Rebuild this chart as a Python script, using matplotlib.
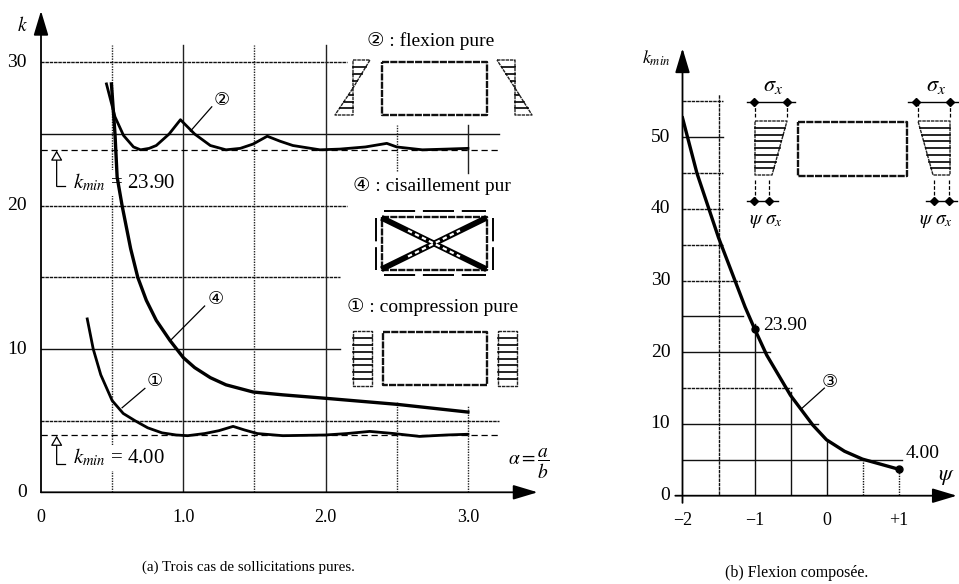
from __future__ import annotations

import matplotlib

matplotlib.use("Agg")
import matplotlib.pyplot as plt

plt.rcParams["font.family"] = ["Liberation Serif", "DejaVu Sans"]
plt.rcParams["mathtext.fontset"] = "stix"

WIDTH, HEIGHT = 959, 584

# left chart
alpha_compression = [0.325, 0.367, 0.42, 0.50, 0.578, 0.66, 0.75, 0.85, 0.95, 1.03, 1.15, 1.25, 1.35, 1.43, 1.52, 1.70, 2.00, 2.15, 2.31, 2.48, 2.66, 2.85, 3.00]
k_compression = [12.1, 10.0, 8.2, 6.4, 5.5, 5.0, 4.5, 4.15, 4.0, 3.95, 4.1, 4.3, 4.6, 4.35, 4.1, 3.95, 4.0, 4.1, 4.25, 4.1, 3.9, 4.0, 4.05]
alpha_bending = [0.46, 0.52, 0.58, 0.65, 0.70, 0.76, 0.81, 0.90, 0.98, 1.08, 1.19, 1.30, 1.40, 1.49, 1.59, 1.68, 1.77, 1.96, 2.10, 2.28, 2.43, 2.50, 2.68, 2.85, 3.00]
k_bending = [28.5, 26.2, 24.9, 24.1, 23.9, 24.0, 24.2, 25.0, 26.0, 25.0, 24.2, 23.9, 24.0, 24.3, 24.85, 24.5, 24.2, 23.9, 23.95, 24.1, 24.35, 24.1, 23.9, 23.95, 24.0]
alpha_shear = [0.495, 0.52, 0.535, 0.57, 0.63, 0.68, 0.74, 0.81, 0.906, 1.00, 1.08, 1.19, 1.30, 1.49, 1.70, 2.00, 2.50, 3.00]
k_shear = [28.5, 25.0, 22.0, 20.0, 17.0, 15.0, 13.4, 12.0, 10.6, 9.4, 8.7, 8.0, 7.5, 7.0, 6.8, 6.56, 6.14, 5.6]
left_h_levels = [30, 25, 20, 15, 10, 5]
left_h_ends = [2.15, 3.22, 2.15, 2.1, 2.1, 3.22]
left_h_styles = ["dense", "solid", "dense", "dense", "solid", "dense"]
left_v_x = [0.5, 1.0, 1.5, 2.0, 2.5, 3.0, 2.5, 3.0]
left_v_low = [-0.55, -0.55, -0.55, -0.55, -0.55, -0.55, 22.4, 22.3]
left_v_high = [31.2, 31.2, 31.2, 31.2, 6.3, 6.0, 25.6, 25.6]
left_v_styles = ["dot", "solid", "dot", "solid", "dot", "dot", "dot", "solid"]
left_xticks = [0, 1.0, 2.0, 3.0]
left_xticklabels = ["0", "1.0", "2.0", "3.0"]
left_yticks = [0, 10, 20, 30]

# right chart
psi = [-2.0, -1.8, -1.5, -1.13, -1.0, -0.83, -0.5, -0.19, 0.0, 0.25, 0.5, 0.75, 1.0]
k_min = [52.7, 45.0, 36.0, 26.3, 23.3, 19.6, 14.0, 9.85, 7.8, 6.2, 5.1, 4.4, 3.7]
right_yticks = [0, 10, 20, 30, 40, 50]
right_xticks = [-2, -1, 0, 1]
right_xticklabels = ["\u22122", "\u22121", "0", "+1"]
right_h_levels = [55, 50, 45, 40, 35, 30, 25, 20, 15, 10, 5]
right_h_ends = [-1.44, -1.44, -1.44, -1.44, -1.44, -1.2, -1.16, -0.79, -0.48, -0.12, 1.05]
right_h_styles = ["dense", "solid", "dense", "dense", "dense", "dense", "solid", "solid", "dense", "solid", "solid"]
right_v_x = [-1.5, -1, -0.5, 0, 0.5, 1]
right_v_tops = [56, 23.9, 14.5, 7.8, 5.1, 3.7]
right_v_styles = ["dense", "solid", "solid", "solid", "dot", "dot"]

STYLES = {"solid": "-", "dense": (0, (2.5, 0.6)), "dot": (0, (1, 0.9))}


def px_axes(fig, left, top, right, bottom):
    return fig.add_axes([left / WIDTH, 1 - bottom / HEIGHT, (right - left) / WIDTH, (bottom - top) / HEIGHT])


def arrow(ax, start, end):
    ax.annotate(
        "",
        xy=end,
        xytext=start,
        arrowprops=dict(arrowstyle="-|>,head_length=1.5,head_width=0.45", color="black", lw=1.3, shrinkA=0, shrinkB=0),
        annotation_clip=False,
    )


def leader(ax, label, tip, start, text_at):
    ax.plot([tip[0], start[0]], [tip[1], start[1]], color="black", lw=0.9, zorder=3)
    ax.text(text_at[0], text_at[1], label, fontsize=13, ha="center", va="center", family=["DejaVu Sans"])


def hook(ax, x, x_end, y_low, y_high):
    ax.annotate(
        "",
        xy=(x, y_high),
        xytext=(x, y_low),
        arrowprops=dict(arrowstyle="-|>,head_length=0.6,head_width=0.35", fc="white", ec="black", lw=0.9, shrinkA=0, shrinkB=0),
    )
    ax.plot([x, x_end], [y_low, y_low], color="black", lw=0.9)


def hatch_poly(dx, xs, ys, n=7):
    # closed outline plus horizontal hatch lines; xs/ys run left-top, right-top, right-bottom, left-bottom
    dx.plot(xs + xs[:1], ys + ys[:1], color="#222222", lw=1.0, ls=STYLES["dense"])
    for i in range(1, n):
        t = i / n
        xl = xs[0] + (xs[3] - xs[0]) * t
        xr = xs[1] + (xs[2] - xs[1]) * t
        y = ys[0] + (ys[3] - ys[0]) * t
        dx.plot([xl, xr], [y, y], color="black", lw=1.2)


def plate(dx, left, top, right, bottom):
    dx.plot([left, right, right, left, left], [top, top, bottom, bottom, top], color="#111111", lw=1.7, ls=(0, (3, 0.5)))


fig = plt.figure(figsize=(WIDTH / 100, HEIGHT / 100), dpi=100)

# ---- left chart ----
ax = px_axes(fig, 41, 10, 545, 492.3)
ax.set_xlim(0, (545 - 41) / 142.3)
ax.set_ylim(0, (492.3 - 10) / 14.33)
ax.axis("off")

for y, end, style in zip(left_h_levels, left_h_ends, left_h_styles):
    ax.plot([-0.06, end], [y, y], color="#111111", lw=1.0, ls=STYLES[style])
for x, low, high, style in zip(left_v_x, left_v_low, left_v_high, left_v_styles):
    ax.plot([x, x], [low, high], color="#222222", lw=1.0, ls=STYLES[style])
ax.plot([0, 3.22], [23.9, 23.9], color="black", lw=0.9, ls=(0, (5, 3)))
ax.plot([0, 3.22], [4.0, 4.0], color="black", lw=0.9, ls=(0, (5, 3)))

arrow(ax, (0, 0), (0, 33.6))
arrow(ax, (0, 0), (3.49, 0))

ax.plot(alpha_compression, k_compression, color="black", lw=2.0, zorder=4)
ax.plot(alpha_bending, k_bending, color="black", lw=2.0, zorder=4)
ax.plot(alpha_shear, k_shear, color="black", lw=2.4, zorder=4)

for x, label in zip(left_xticks, left_xticklabels):
    ax.text(x, -1.75, label, fontsize=13, ha="center", va="center")
for y in left_yticks:
    ax.text(-0.1, y, str(y), fontsize=14, ha="right", va="center")
ax.text(-0.13, 32.6, "$k$", fontsize=14, ha="center", va="center")

ax.text(0.225, 21.6, "$k_{min}$ = 23.90", fontsize=15, ha="left", va="center", bbox=dict(fc="white", ec="none", pad=1.5), zorder=3)
ax.text(0.225, 2.4, "$k_{min}$ = 4.00", fontsize=15, ha="left", va="center", bbox=dict(fc="white", ec="none", pad=1.5), zorder=3)
hook(ax, 0.11, 0.17, 21.35, 23.85)
hook(ax, 0.11, 0.17, 1.95, 3.95)

leader(ax, "\u2461", (1.05, 25.2), (1.2, 26.9), (1.27, 27.35))
leader(ax, "\u2463", (0.91, 10.6), (1.15, 13.0), (1.23, 13.5))
leader(ax, "\u2460", (0.57, 5.9), (0.73, 7.25), (0.80, 7.8))

ax.text(2.29, 31.5, "\u2461 : flexion pure", fontsize=14, ha="left", va="center")
ax.text(2.19, 21.4, "\u2463 : cisaillement pur", fontsize=14, ha="left", va="center")
ax.text(2.15, 12.9, "\u2460 : compression pure", fontsize=14, ha="left", va="center")
ax.text(3.43, 2.0, r"$\alpha = \dfrac{a}{b}$", fontsize=14, ha="center", va="center")

ax.text(0.71, -5.2, "(a) Trois cas de sollicitations pures.", fontsize=10.8, ha="left", va="center", clip_on=False)

# ---- right chart ----
rx = px_axes(fig, 682.5, 40, 957, 495.7)
rx.set_xlim(-2, -2 + (957 - 682.5) / 72)
rx.set_ylim(0, (495.7 - 40) / 7.17)
rx.axis("off")

for x, top, style in zip(right_v_x, right_v_tops, right_v_styles):
    rx.plot([x, x], [-1, top], color="#111111", lw=1.0, ls=STYLES[style])
for y, end, style in zip(right_h_levels, right_h_ends, right_h_styles):
    rx.plot([-2.12, end], [y, y], color="#111111", lw=1.0, ls=STYLES[style])

arrow(rx, (-2, -1), (-2, 62.4))
arrow(rx, (-2.1, 0), (1.81, 0))

rx.plot(psi, k_min, color="black", lw=2.4, zorder=4)
rx.plot([-1, 1], [23.3, 3.7], ls="none", marker="o", ms=5, color="black", zorder=5)

for x, label in zip(right_xticks, right_xticklabels):
    rx.text(x, -3.4, label, fontsize=13, ha="center", va="center")
for y in right_yticks:
    rx.text(-2.17, y, str(y), fontsize=14, ha="right", va="center")
rx.text(-2.37, 61, "$k_{min}$", fontsize=13, ha="center", va="center")
rx.text(1.67, 2.6, r"$\psi$", fontsize=16, ha="center", va="center")
rx.text(-0.88, 23.7, "23.90", fontsize=14, ha="left", va="center")
rx.text(1.33, 5.95, "4.00", fontsize=14, ha="center", va="center")
leader(rx, "\u2462", (-0.34, 12.2), (-0.03, 15.0), (0.05, 15.9))

rx.text(-1.41, -10.8, "(b) Flexion compos\u00e9e.", fontsize=11.5, ha="left", va="center", clip_on=False)

# ---- schematic plates, drawn in picture pixels ----
dx = fig.add_axes([0, 0, 1, 1])
dx.set_xlim(0, WIDTH)
dx.set_ylim(HEIGHT, 0)
dx.axis("off")
dx.patch.set_alpha(0)

# pure bending
plate(dx, 382, 62, 487, 115)
hatch_poly(dx, [353, 370, 353, 353], [60, 60, 88, 88], n=4)
hatch_poly(dx, [353, 353, 353, 335], [88, 88, 115, 115], n=4)
hatch_poly(dx, [497, 515, 515, 515], [60, 60, 88, 88], n=4)
hatch_poly(dx, [515, 515, 532, 515], [88, 88, 115, 115], n=4)

# pure shear
plate(dx, 382, 217, 487, 270)
dx.plot([384, 484], [219, 268], color="black", lw=4.2)
dx.plot([384, 484], [268, 219], color="black", lw=4.2)
dx.plot([408, 460], [230.5, 256.5], color="white", lw=1.6, ls=(0, (2, 1.5)))
dx.plot([408, 460], [256.5, 230.5], color="white", lw=1.6, ls=(0, (2, 1.5)))
dx.plot([384, 486], [211, 211], color="black", lw=1.4, ls=(0, (16, 4)))
dx.plot([384, 486], [275, 275], color="black", lw=1.4, ls=(0, (16, 4)))
dx.plot([376, 376], [218, 270], color="black", lw=1.4, ls=(0, (12, 3)))
dx.plot([493, 493], [218, 270], color="black", lw=1.4, ls=(0, (12, 3)))

# pure compression
plate(dx, 383, 332, 487, 385)
hatch_poly(dx, [353, 372, 372, 353], [331, 331, 386, 386], n=8)
hatch_poly(dx, [498, 517, 517, 498], [331, 331, 386, 386], n=8)

# combined bending
plate(dx, 798, 122, 907, 176)
hatch_poly(dx, [755, 787, 772, 755], [121, 121, 175, 175], n=8)
hatch_poly(dx, [918, 950, 950, 933], [121, 121, 175, 175], n=8)
dx.plot([747, 795], [102, 102], color="black", lw=1.0)
dx.plot([908, 959], [102, 102], color="black", lw=1.0)
dx.plot([754, 787, 916, 950], [102, 102, 102, 102], ls="none", marker="D", ms=4, color="black")
dx.plot([747, 778], [201, 201], color="black", lw=1.0)
dx.plot([926, 957], [201, 201], color="black", lw=1.0)
dx.plot([754, 769, 934, 949], [201, 201, 201, 201], ls="none", marker="D", ms=4, color="black")
for x, y0, y1 in [(755, 102, 118), (787, 102, 118), (918, 102, 118), (950, 102, 118), (755, 180, 201), (769, 180, 201), (934, 180, 201), (949, 180, 201)]:
    dx.plot([x, x], [y0, y1], color="black", lw=0.9, ls=(0, (3, 1.5)))
dx.text(773, 86, r"$\sigma_x$", fontsize=16, ha="center", va="center")
dx.text(936, 86, r"$\sigma_x$", fontsize=16, ha="center", va="center")
dx.text(766, 221, r"$\psi\ \sigma_x$", fontsize=14, ha="center", va="center")
dx.text(936, 221, r"$\psi\ \sigma_x$", fontsize=14, ha="center", va="center")

fig.savefig("out.png", dpi=100)
plt.close(fig)
